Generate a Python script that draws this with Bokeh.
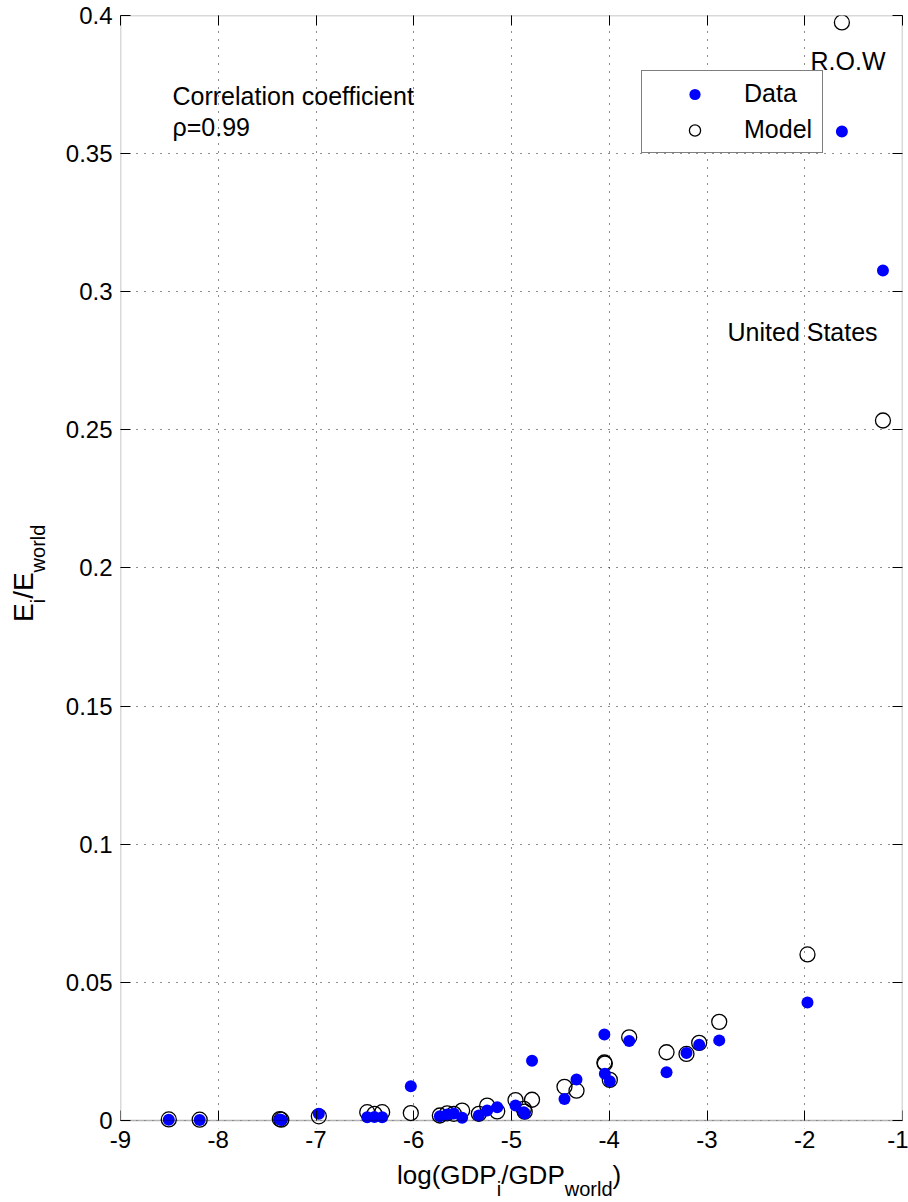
from bokeh.plotting import figure
from bokeh.models import (Range1d, FixedTicker, LinearAxis, Label, Legend,
                          LegendItem, BoxAnnotation, ColumnDataSource, Div)
from bokeh.layouts import row, column
from bokeh.embed import file_html
from bokeh.resources import INLINE

# ---------------- data ----------------
log_gdp_share = [-8.506, -8.19, -7.37, -7.355, -6.971, -6.476, -6.402, -6.323,
                 -6.030, -5.733, -5.658, -5.590, -5.505, -5.334, -5.249, -5.146,
                 -4.959, -4.874, -4.865, -4.790, -4.458, -4.335, -4.050, -4.045,
                 -3.994, -3.796, -3.414, -3.210, -3.080, -2.875, -1.972, -1.620,
                 -1.200]
energy_share_data = [0.0003, 0.0002, 0.0004, 0.0002, 0.0024, 0.0012, 0.0013, 0.0012,
                     0.0124, 0.0015, 0.0022, 0.0025, 0.0010, 0.0018, 0.0036, 0.0048,
                     0.0054, 0.0030, 0.0025, 0.0216, 0.0078, 0.0148, 0.0311, 0.0169,
                     0.0142, 0.0288, 0.0175, 0.0244, 0.0274, 0.0290, 0.0427, 0.3580,
                     0.3077]
energy_share_model = [0.0004, 0.0003, 0.0005, 0.0003, 0.0015, 0.0030, 0.0024, 0.0030,
                      0.0027, 0.0018, 0.0026, 0.0024, 0.0036, 0.0024, 0.0054, 0.0033,
                      0.0074, 0.0042, 0.0032, 0.0075, 0.0122, 0.0108, 0.0210, 0.0206,
                      0.0147, 0.0301, 0.0247, 0.0241, 0.0281, 0.0357, 0.0601, 0.3975,
                      0.2534]
series_names = ["Data", "Model"]

x_ticks = [-9, -8, -7, -6, -5, -4, -3, -2, -1]
x_tick_labels = ["-9", "-8", "-7", "-6", "-5", "-4", "-3", "-2", "-1"]
y_ticks = [0, 0.05, 0.1, 0.15, 0.2, 0.25, 0.3, 0.35, 0.4]
y_tick_labels = ["0", "0.05", "0.1", "0.15", "0.2", "0.25", "0.3", "0.35", "0.4"]

corr_text = ["Correlation coefficient", "\u03c1=0.99"]
row_text = "R.O.W"
us_text = "United States"
x_label_parts = ["log(GDP", "i", "/GDP", "world", ")"]
y_label_parts = ["E", "i", "/E", "world"]

# ---------------- styling ----------------
FONT = "Liberation Sans"
TICK_FS = "24px"
TEXT_FS = "25px"
F_MAIN = 26
F_MAIN_Y = 28
F_SUB = 20
SUB_DROP = 12

src = ColumnDataSource(dict(x=log_gdp_share, data=energy_share_data,
                            model=energy_share_model))

YLAB_W = 50
P_W = 908 - YLAB_W
P_H = 1168

p = figure(width=P_W, height=P_H,
           x_range=Range1d(-9, -1), y_range=Range1d(-0.0029, 0.4),
           output_backend="svg", toolbar_location=None,
           min_border_left=120 - YLAB_W, min_border_right=6, min_border_top=15,
           min_border_bottom=40)
p.outline_line_color = None
p.background_fill_color = "white"
p.border_fill_color = "white"

# axis at y = 0 carrying only the inward ticks
xt = p.xaxis[0]
xt.fixed_location = 0
xt.ticker = FixedTicker(ticks=x_ticks)
xt.major_label_overrides = {t: "" for t in x_ticks}
xt.major_label_text_font_size = "0px"
xt.major_label_standoff = 0

# axis at the frame bottom carrying the labels
xl = LinearAxis(ticker=FixedTicker(ticks=x_ticks))
xl.major_label_overrides = {t: l for t, l in zip(x_ticks, x_tick_labels)}
xl.major_label_text_font = FONT
xl.major_label_text_font_size = TICK_FS
xl.major_label_text_color = "black"
xl.major_label_standoff = 2
xl.major_tick_line_color = None
xl.minor_tick_line_color = None
xl.axis_line_color = None
xl.major_tick_in = 0
xl.major_tick_out = 0
p.add_layout(xl, "below")

ya = p.yaxis[0]
ya.ticker = FixedTicker(ticks=y_ticks)
ya.major_label_overrides = {t: l for t, l in zip(y_ticks, y_tick_labels)}
ya.major_label_text_font = FONT
ya.major_label_text_font_size = TICK_FS
ya.major_label_text_color = "black"
ya.major_label_standoff = 8

top_ax = LinearAxis(ticker=FixedTicker(ticks=x_ticks))
right_ax = LinearAxis(ticker=FixedTicker(ticks=y_ticks))
top_ax.major_label_overrides = {t: "" for t in x_ticks}
right_ax.major_label_overrides = {t: "" for t in y_ticks}
for ax in (top_ax, right_ax):
    ax.major_label_text_font_size = "0px"
    ax.major_label_standoff = 0
p.add_layout(top_ax, "above")
p.add_layout(right_ax, "right")

for ax in (xt, ya, top_ax, right_ax):
    ax.major_tick_in = 10
    ax.major_tick_out = 0
    ax.minor_tick_line_color = None
    ax.major_tick_line_color = "black"
    ax.major_tick_line_width = 1
    ax.axis_line_color = None

for g in (p.xgrid[0], p.ygrid[0]):
    g.grid_line_color = "black"
    g.grid_line_dash = "1 7"
    g.grid_line_width = 1
    g.grid_line_alpha = 0.9

# white strip under y=0 to hide the grid overhang
mask = BoxAnnotation(left=-9, right=-1, bottom=-0.0029, top=0,
                     fill_color="white", fill_alpha=1.0, line_color=None,
                     level="underlay")
p.add_layout(mask, "center")

r_model = p.scatter("x", "model", source=src, marker="circle", size=15,
                    fill_color=None, line_color="black", line_width=1.3)
r_data = p.scatter("x", "data", source=src, marker="circle", size=12,
                   fill_color="#0000ff", line_color=None)

# frame box from 0 to 0.4
frame_box = BoxAnnotation(left=-9, right=-1, bottom=0, top=0.4,
                          fill_color=None, fill_alpha=0, line_color="black",
                          line_width=1.5)
p.add_layout(frame_box, "center")

legend = Legend(items=[LegendItem(label=series_names[0], renderers=[r_data]),
                       LegendItem(label=series_names[1], renderers=[r_model])],
                location=(521, 975), padding=8, spacing=7, margin=0,
                glyph_width=89, glyph_height=28, label_height=28,
                label_width=70, label_standoff=5,
                label_text_font=FONT, label_text_font_size=TEXT_FS,
                label_text_color="black",
                border_line_color="black", border_line_width=1.2,
                background_fill_color="white", background_fill_alpha=1.0)
p.add_layout(legend, "center")

# in-plot texts
for x, y, t in [(-8.468, 0.371, corr_text[0]), (-8.468, 0.3595, corr_text[1]),
                (-1.941, 0.3837, row_text), (-2.79, 0.2853, us_text)]:
    p.add_layout(Label(x=x, y=y, text=t, text_font=FONT, text_font_size=TEXT_FS,
                       text_baseline="middle", text_color="black"))


def sub_html(parts):
    out = []
    for k, t in enumerate(parts):
        if k % 2 == 1:
            out.append(f'<span style="font-size:{F_SUB}px;position:relative;'
                       f'top:{SUB_DROP}px;">{t}</span>')
        else:
            out.append(f'<span>{t}</span>')
    return "".join(out)


def base_css(fs):
    return (f"font-family:'{FONT}';font-size:{fs}px;line-height:{fs}px;"
            "color:black;white-space:nowrap;margin:0;padding:0;")


# y label: rotated text, baseline near x=35, bottom end near y=622 (page coords)
ylab = Div(width=YLAB_W, height=P_H, margin=0,
           text=(f'<div style="position:relative;width:0;height:0;">'
                 f'<div style="position:absolute;left:10px;top:610px;'
                 f'transform:rotate(-90deg);transform-origin:0 0;{base_css(F_MAIN_Y)}">'
                 f'{sub_html(y_label_parts)}</div></div>'))

# x label: starts at x=397, baseline near y=1182 (page coords)
xlab = Div(width=P_W, height=32, margin=0,
           text=(f'<div style="position:relative;width:0;height:0;">'
                 f'<div style="position:absolute;left:{397 - YLAB_W}px;top:-18px;'
                 f'{base_css(F_MAIN)}">{sub_html(x_label_parts)}</div></div>'))

layout = row(ylab, column(p, xlab))

open("out.html", "w").write(file_html(layout, INLINE))
